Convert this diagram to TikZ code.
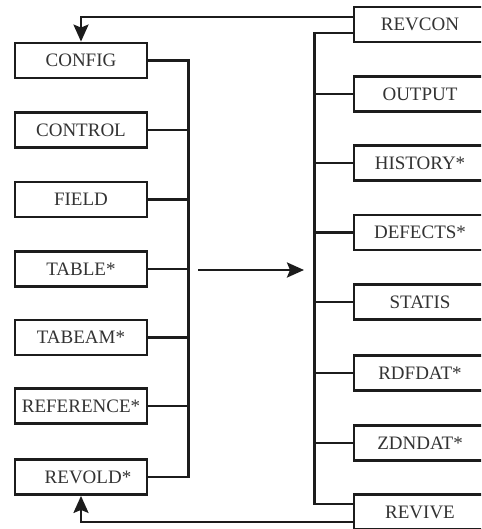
\documentclass[tikz,border=0pt]{standalone}
\usepackage{fontspec}
\setmainfont{Liberation Serif}
\usetikzlibrary{arrows.meta}
\definecolor{ink}{HTML}{1C1C1C}
\definecolor{txt}{HTML}{333333}
\tikzset{
  filebox/.style={draw=ink, line width=2.8pt, fill=white, minimum width=132pt,
    minimum height=35pt, inner sep=0pt, text=txt,
    font=\fontsize{19}{21}\selectfont},
  link/.style={draw=ink, line width=2.6pt},
  flow/.style={link, -{Stealth[length=17pt,width=15pt,inset=3pt]}}
}
\begin{document}
\begin{tikzpicture}[x=1pt,y=-1pt]
  \clip (0,0) rectangle (481,529);
  \fill[white] (0,0) rectangle (481,529);

  % input files (left column)
  \node[filebox] (cfg)   at (81,60.5) {CONFIG};
  \node[filebox] (ctl)   at (81,130)  {CONTROL};
  \node[filebox] (fld)   at (81,199.5){FIELD};
  \node[filebox] (tab)   at (81,269)  {TABLE*};
  \node[filebox] (tbm)   at (81,337.5){TABEAM*};
  \node[filebox] (ref)   at (81,406)  {REFERENCE*};
  \node[filebox] (rold)  at (81,477)  {\hspace{14pt}REVOLD*};

  % output files (right column)
  \node[filebox] (rcon)  at (420,24.5) {REVCON};
  \node[filebox] (out)   at (420,94)   {OUTPUT};
  \node[filebox] (hist)  at (420,163)  {HISTORY*};
  \node[filebox] (def)   at (420,232.5){DEFECTS*};
  \node[filebox] (stat)  at (420,302)  {STATIS};
  \node[filebox] (rdf)   at (420,373)  {RDFDAT*};
  \node[filebox] (zdn)   at (420,443)  {ZDNDAT*};
  \node[filebox] (rviv)  at (420,512)  {REVIVE};

  % left bus
  \draw[link] (cfg.east) -- ++(40,0) |- (rold.east);
  \foreach \n in {ctl,fld,tab,tbm,ref}
    \draw[link] (\n.east) -- ++(40,0);

  % right bus
  \draw[link] ([yshift=-8.5pt]rcon.west) -- ++(-38,0) |- ([yshift=8pt]rviv.west);
  \foreach \n in {out,hist,def,stat,rdf,zdn}
    \draw[link] (\n.west) -- ++(-38,0);

  % main flow
  \coordinate (runA) at (198,270);
  \coordinate (runB) at (304,270);
  \draw[flow] (runA) -- (runB);

  % feedback loops
  \draw[flow] ([yshift=7.5pt]rcon.west) -| (cfg.north);
  \draw[flow] ([yshift=-10pt]rviv.west) -| (rold.south);
\end{tikzpicture}
\end{document}
